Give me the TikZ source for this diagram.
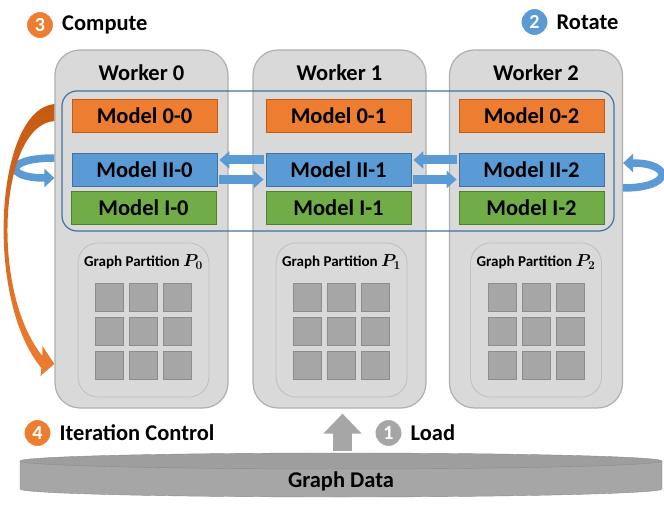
\documentclass[tikz,border=0pt]{standalone}
\usepackage{fontspec}
\setmainfont{Carlito}
\usetikzlibrary{positioning,arrows.meta}
\definecolor{morange}{HTML}{ED7D31}
\definecolor{morangedk}{HTML}{C55A11}
\definecolor{mblue}{HTML}{5B9BD5}
\definecolor{mbluedk}{HTML}{41719C}
\definecolor{mgreen}{HTML}{70AD47}
\definecolor{mgreendk}{HTML}{507E32}
\definecolor{wfill}{HTML}{D9D9D9}
\definecolor{wline}{HTML}{AFAFAF}
\definecolor{cellfill}{HTML}{A6A6A6}
\definecolor{cellline}{HTML}{8C8C8C}
\begin{document}
\begin{tikzpicture}
    [x=1pt,y=1pt,
     worker/.style={rounded corners=25pt,draw=wline,fill=wfill,line width=1.2pt,minimum width=173pt,minimum height=358pt},
     title/.style={inner sep=0pt,font=\fontsize{22.5}{27}\selectfont\bfseries},
     model/.style={minimum width=145pt,minimum height=33pt,inner sep=0pt,line width=0.8pt,font=\fontsize{22.5}{27}\selectfont\bfseries},
     part/.style={rounded corners=20pt,draw=wline!80,fill=wfill,line width=0.8pt,minimum width=131pt,minimum height=154pt},
     plabel/.style={inner sep=0pt,font=\fontsize{15}{18}\selectfont\bfseries},
     cell/.style={draw=cellline,fill=cellfill,line width=0.8pt,minimum size=28pt,inner sep=0pt},
     stepnum/.style={circle,draw=white,line width=1pt,minimum size=27pt,inner sep=0pt,text=white,font=\fontsize{20}{20}\selectfont\bfseries},
     steptext/.style={inner sep=0pt,font=\fontsize{22.5}{27}\selectfont\bfseries},
     rot/.style={mblue,line width=9pt,shorten <=2pt,shorten >=2pt,-{Triangle[width=17pt,length=10pt]}},
     spin/.style={mblue,line width=7.5pt,-{Triangle[width=18pt,length=10pt]}},
     load/.style={cellfill,line width=19pt,shorten >=5pt,-{Triangle[width=37pt,length=20pt]}}]
    \useasboundingbox (0,0) rectangle (664,507);
    \node [worker] (w0) at (141.5,278) {};
    \node [worker] (w1) at (339.5,278) {};
    \node [worker] (w2) at (536,278) {};
    \node [title] (t0) at (141.5,434) {Worker 0};
    \node [title] (t1) at (339.5,434) {Worker 1};
    \node [title] (t2) at (536,434) {Worker 2};
    \node [draw=mbluedk,line width=1.2pt,rounded corners=15pt,minimum width=552pt,minimum height=140pt] (ring) at (338,346) {};
    \node [model,fill=morange,draw=morangedk] (m00) at (144.5,391) {Model 0-0};
    \node [model,fill=morange,draw=morangedk] (m01) at (338.5,391) {Model 0-1};
    \node [model,fill=morange,draw=morangedk] (m02) at (531.5,391) {Model 0-2};
    \node [model,fill=mblue,draw=mbluedk] (m20) at (144.5,337.5) {Model II-0};
    \node [model,fill=mblue,draw=mbluedk] (m21) at (338.5,337.5) {Model II-1};
    \node [model,fill=mblue,draw=mbluedk] (m22) at (531.5,337.5) {Model II-2};
    \node [model,fill=mgreen,draw=mgreendk] (m10) at (143.5,299.5) {Model I-0};
    \node [model,fill=mgreen,draw=mgreendk] (m11) at (338.5,299.5) {Model I-1};
    \node [model,fill=mgreen,draw=mgreendk] (m12) at (531.5,299.5) {Model I-2};
    \draw [rot] ([yshift=9.5pt]m21.west) -- ([yshift=9.5pt]m20.east);
    \draw [rot] ([yshift=-10pt]m20.east) -- ([yshift=-10pt]m21.west);
    \draw [rot] ([yshift=9.5pt]m22.west) -- ([yshift=9.5pt]m21.east);
    \draw [rot] ([yshift=-10pt]m21.east) -- ([yshift=-10pt]m22.west);
    \draw [spin] ([yshift=71pt]w0.west) .. controls +(-50,0) and +(-50,0) .. ([yshift=51pt]w0.west);
    \draw [spin] ([yshift=41pt]w2.east) .. controls +(50,0) and +(50,0) .. ([yshift=66pt]w2.east);
    \shade [top color=morangedk,bottom color=morange] ([yshift=125pt]w0.west)
      .. controls +(-60,-6) and +(-57,68) .. ([shift={(-13,-139)}]w0.west)
      -- ([shift={(-14,-147)}]w0.west) -- ([yshift=-135pt]w0.west)
      -- ([shift={(-12,-117)}]w0.west) -- ([shift={(-12,-127)}]w0.west)
      .. controls +(-53,66) and +(-55,-4) .. ([yshift=108pt]w0.west) -- cycle;
    \node [part] (p0) at (143.5,187) {};
    \node [part] (p1) at (341.5,187) {};
    \node [part] (p2) at (536,187) {};
    \node [plabel] (pl0) at (143.5,245) {Graph Partition {\fontsize{18}{18}\selectfont\boldmath$P_0$}};
    \node [plabel] (pl1) at (341.5,245) {Graph Partition {\fontsize{18}{18}\selectfont\boldmath$P_1$}};
    \node [plabel] (pl2) at (536,245) {Graph Partition {\fontsize{18}{18}\selectfont\boldmath$P_2$}};
    \foreach \p in {0,1,2}
      \foreach \r in {0,1,2}
        \foreach \c in {0,1,2}
          \node [cell] (c\p\r\c) at ([shift={(34*\c-34,23-34*\r)}]p\p) {};
    \fill [cellfill] (20,46) -- (20,18) arc [start angle=180,end angle=360,x radius=321,y radius=8] -- (662,46) -- cycle;
    \draw [cellline] (20,46) -- (20,18) arc [start angle=180,end angle=360,x radius=321,y radius=8] -- (662,46);
    \draw [cellline,fill=cellfill!95!black] (341,46) ellipse [x radius=321,y radius=8];
    \node [title] (gdata) at (341,26) {Graph Data};
    \coordinate (ldbase) at (342.5,56);
    \draw [load] (ldbase) -- (ldbase |- w1.south);
    \node [stepnum,fill=morange] (s3) at (40,482) {3};
    \node [steptext,right=8pt of s3] (s3t) {Compute};
    \node [stepnum,fill=mblue] (s2) at (534.5,485) {2};
    \node [steptext,right=8pt of s2] (s2t) {Rotate};
    \node [stepnum,fill=cellfill] (s1) at (388.5,74) {1};
    \node [steptext,right=8pt of s1] (s1t) {Load};
    \node [stepnum,fill=morange] (s4) at (37.5,74) {4};
    \node [steptext,right=8pt of s4] (s4t) {Iteration Control};
\end{tikzpicture}
\end{document}
